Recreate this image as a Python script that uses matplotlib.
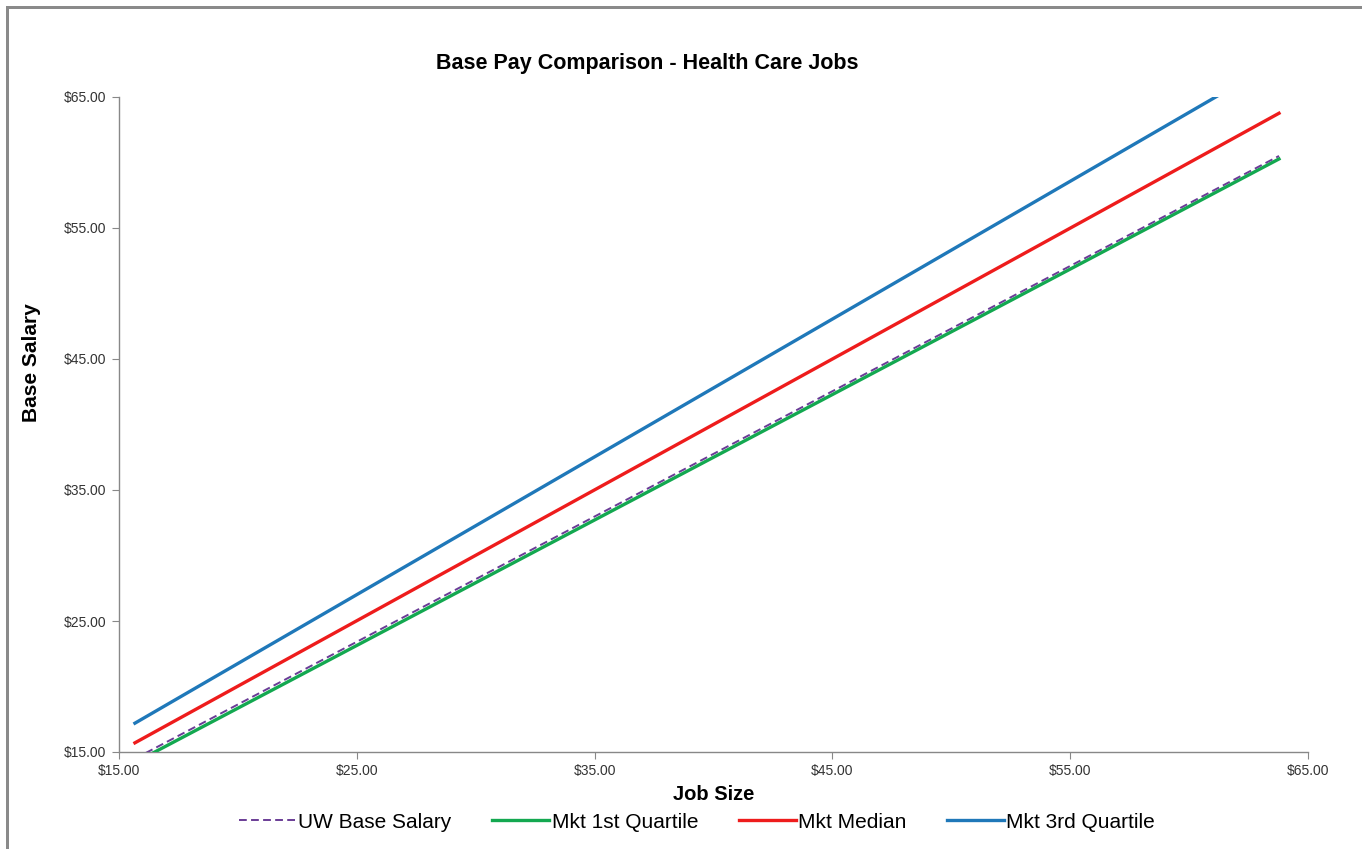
import matplotlib
matplotlib.use('Agg')
import matplotlib.pyplot as plt
from matplotlib.patches import Rectangle
from matplotlib.ticker import FuncFormatter

# values (job size vs base salary, both in $)
job_size = [15.67, 63.78]
uw_base = [14.49, 60.50]
mkt_q1 = [14.20, 60.27]
mkt_median = [15.70, 63.76]
mkt_q3 = [17.20, 67.80]

ticks = [15, 25, 35, 45, 55, 65]

plt.rcParams['font.family'] = ['Liberation Sans', 'DejaVu Sans']

fig = plt.figure(figsize=(13.62, 8.49), dpi=100)
ax = fig.add_axes([119 / 1362, 1 - 752 / 849, 1189 / 1362, 655 / 849])

ax.plot(job_size, mkt_q3, color='#1f78b9', lw=2.4, label='Mkt 3rd Quartile', zorder=3)
ax.plot(job_size, mkt_median, color='#ee1c1c', lw=2.4, label='Mkt Median', zorder=3)
ax.plot(job_size, mkt_q1, color='#13a850', lw=2.4, label='Mkt 1st Quartile', zorder=3)
ax.plot(job_size, uw_base, color='#6a3c96', lw=1.4, ls=(0, (4, 2.2)),
        label='UW Base Salary', zorder=4)

ax.set_xlim(15, 65)
ax.set_ylim(15, 65)
ax.set_xticks(ticks)
ax.set_yticks(ticks)
fmt = FuncFormatter(lambda v, p: f'${v:.2f}')
ax.xaxis.set_major_formatter(fmt)
ax.yaxis.set_major_formatter(fmt)
ax.tick_params(labelsize=10, length=5, width=0.8, direction='out', pad=4,
               colors='#888888', labelcolor='#333333')

for side in ['top', 'right']:
    ax.spines[side].set_visible(False)
for side in ['left', 'bottom']:
    ax.spines[side].set_color('#888888')
    ax.spines[side].set_linewidth(1.0)

ax.set_title('Base Pay Comparison - Health Care Jobs', fontsize=15.5,
             fontweight='bold', x=0.444, pad=20)
ax.set_xlabel('Job Size', fontsize=14.5, fontweight='bold')
ax.xaxis.set_label_coords(0.5, -0.05)
ax.set_ylabel('Base Salary', fontsize=15, fontweight='bold')
ax.yaxis.set_label_coords(-0.066, 0.595)

handles, labels = ax.get_legend_handles_labels()
order = [3, 2, 1, 0]
fig.legend([handles[i] for i in order], [labels[i] for i in order],
           loc='center', bbox_to_anchor=(697 / 1362, 1 - 822 / 849), ncol=4,
           frameon=False, fontsize=15, handlelength=2.75, handletextpad=0.1,
           columnspacing=1.95)

# grey frame on the top and left edges of the image
fig.add_artist(Rectangle((6 / 1362, 0), 3 / 1362, 843 / 849,
                         transform=fig.transFigure, color='#8a8a8a', lw=0))
fig.add_artist(Rectangle((6 / 1362, 1 - 9 / 849), 1, 3 / 849,
                         transform=fig.transFigure, color='#8a8a8a', lw=0))

fig.savefig('out.png', dpi=100)
